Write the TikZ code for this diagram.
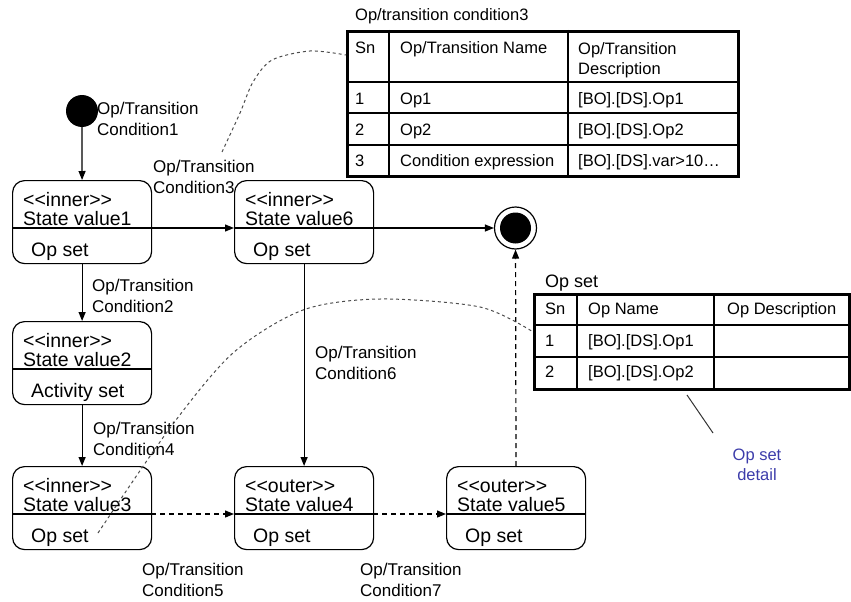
\documentclass[tikz,border=0pt]{standalone}
\usepackage{fontspec}
\setmainfont{Liberation Sans}
\usetikzlibrary{graphs, arrows.meta}
\definecolor{noteblue}{RGB}{60,60,170}
\newcommand{\stereo}[1]{<\kern0pt<#1>\kern0pt>}
\newcommand{\stbox}[6]{%
    \node [statebox] (#1) at (#2,#3) {};
    \coordinate (#1w) at (#2,#3+48);
    \coordinate (#1e) at (#2+139,#3+48);
    \draw [line width=1.2pt] (#1w) -- (#1e);
    \node [sttext] (#1s) at (#2+11,#3+19) {\stereo{#4}};
    \node [sttext] (#1v) at (#2+11,#3+38) {#5};
    \node [sttext] (#1o) at (#2+19,#3+69) {#6};
}

\begin{document}
\begin{tikzpicture}[
                x=1pt, y=-1pt,
                statebox/.style={
                    draw, rectangle,
                    rounded corners=12pt,
                    line width=1.2pt,
                    minimum width=139pt,
                    minimum height=83pt,
                    anchor=north west,
                    inner sep=0pt,
                },
                sttext/.style={
                    anchor=west, inner sep=0pt,
                    text height=14pt, text depth=0pt,
                    font=\fontsize{19.5}{22}\selectfont,
                },
                cond/.style={
                    anchor=north west, align=left, inner sep=0pt,
                    font=\fontsize{17}{21}\selectfont,
                },
                cell/.style={
                    anchor=west, inner sep=0pt,
                    text height=11.9pt, text depth=0pt,
                    font=\fontsize{16.5}{20}\selectfont,
                },
                hcell/.style={
                    anchor=north west, align=left, inner sep=0pt,
                    font=\fontsize{16.5}{20}\selectfont,
                },
                tabframe/.style={
                    draw, rectangle,
                    line width=2.8pt,
                    anchor=north west,
                    inner sep=0pt,
                },
                tabline/.style={line width=1.3pt},
                trans/.style={line width=1.2pt},
                dtrans/.style={dash pattern=on 5pt off 4pt},
                noteline/.style={dash pattern=on 3pt off 3pt, line width=1pt, black!70},
                initdot/.style={circle, fill=black, inner sep=0pt, minimum size=32pt},
                finring/.style={circle, draw, line width=1.2pt, inner sep=0pt, minimum size=42pt},
                >={Triangle[length=9pt, width=7pt]},
            ]
            \useasboundingbox (0,0) rectangle (851,602);

            % states
            \node [initdot] (init) at (82,111) {};
            \stbox{sv1}{12}{180}{inner}{State value1}{Op set}
            \stbox{sv6}{234}{180}{inner}{State value6}{Op set}
            \stbox{sv2}{12}{321}{inner}{State value2}{Activity set}
            \stbox{sv3}{12}{466}{inner}{State value3}{Op set}
            \stbox{sv4}{234}{466}{outer}{State value4}{Op set}
            \stbox{sv5}{446}{466}{outer}{State value5}{Op set}
            \node [finring] (fin) at (515.5,228) {};
            \node [initdot, minimum size=31pt] (finin) at (fin) {};

            \graph [ use existing nodes, edges={trans}, ] {
                init -> sv1 -> sv2 -> sv3 ;
                sv1e -> sv6w ;
                sv6 -> sv4 ;
                sv6e -> fin ;
                sv3e ->[dtrans] sv4w ;
                sv4e ->[dtrans] sv5w ;
                sv5 ->[dtrans] fin ;
            } ;

            % transition labels
            \node [cond] (c1) at (97,102) {Op/Transition\\Condition1};
            \node [cond] (c2) at (92,279) {Op/Transition\\Condition2};
            \node [cond] (c3) at (153,160) {Op/Transition\\Condition3};
            \node [cond] (c4) at (93,422) {Op/Transition\\Condition4};
            \node [cond] (c5) at (142,563) {Op/Transition\\Condition5};
            \node [cond] (c6) at (315,346) {Op/Transition\\Condition6};
            \node [cond] (c7) at (360,563) {Op/Transition\\Condition7};

            % transition condition table
            \node [tabframe, minimum width=391pt, minimum height=145pt] (cdtab) at (346,30) {};
            \foreach \cx in {389,568} \draw [tabline] (\cx,30) -- (\cx,175);
            \foreach \ry in {82,113,145} \draw [tabline] (346,\ry) -- (737,\ry);
            \node [cell] (cdcap) at (355,15) {Op/transition condition3};
            \node [cell] (cdh1) at (355,48) {Sn};
            \node [cell] (cdh2) at (400,48) {Op/Transition Name};
            \node [hcell] (cdh3) at (578,42) {Op/Transition\\Description};
            \foreach \sn/\nm/\ds/\ry in {1/Op1/{[BO].[DS].Op1}/99,
                                         2/Op2/{[BO].[DS].Op2}/130,
                                         3/Condition expression/{[BO].[DS].var>10…}/161} {
                \node [cell] (cdsn\sn) at (355,\ry) {\sn};
                \node [cell] (cdnm\sn) at (400,\ry) {\nm};
                \node [cell] (cdds\sn) at (578,\ry) {\ds};
            }

            % op set table
            \node [tabframe, minimum width=315pt, minimum height=95pt] (ostab) at (533,293) {};
            \foreach \cx in {577,714} \draw [tabline] (\cx,293) -- (\cx,388);
            \foreach \ry in {325,357} \draw [tabline] (533,\ry) -- (848,\ry);
            \node [cell, font=\fontsize{18}{21}\selectfont] (oscap) at (545,282) {Op set};
            \node [cell] (osh1) at (545,309) {Sn};
            \node [cell] (osh2) at (588,309) {Op Name};
            \node [cell] (osh3) at (727,309) {Op Description};
            \foreach \sn/\ry in {1/341, 2/372} {
                \node [cell] (ossn\sn) at (545,\ry) {\sn};
                \node [cell] (osnm\sn) at (588,\ry) {[BO].[DS].Op\sn};
            }

            % notes
            \node [align=center, text=noteblue, inner sep=0pt,
                   font=\fontsize{16.5}{20}\selectfont] (osdet) at (757,465) {Op set\\detail};
            \coordinate (dtla) at (687,395);
            \coordinate (dtlb) at (713,433);
            \draw [line width=1pt, black!80] (dtla) -- (dtlb);

            \coordinate (cdin) at ([yshift=-25pt]cdtab.north west);
            \coordinate (c3top) at (222,152);
            \draw [noteline] plot [smooth] coordinates {(c3top) (240,113) (253,82) (272,60) (310,51) (cdin)};
            \coordinate (osin) at ([yshift=10pt]ostab.west);
            \coordinate (sv3tail) at (98,533);
            \draw [noteline] plot [smooth] coordinates {(sv3tail) (170,428) (233,353) (303,310) (380,299) (480,307) (osin)};
        \end{tikzpicture}
\end{document}
